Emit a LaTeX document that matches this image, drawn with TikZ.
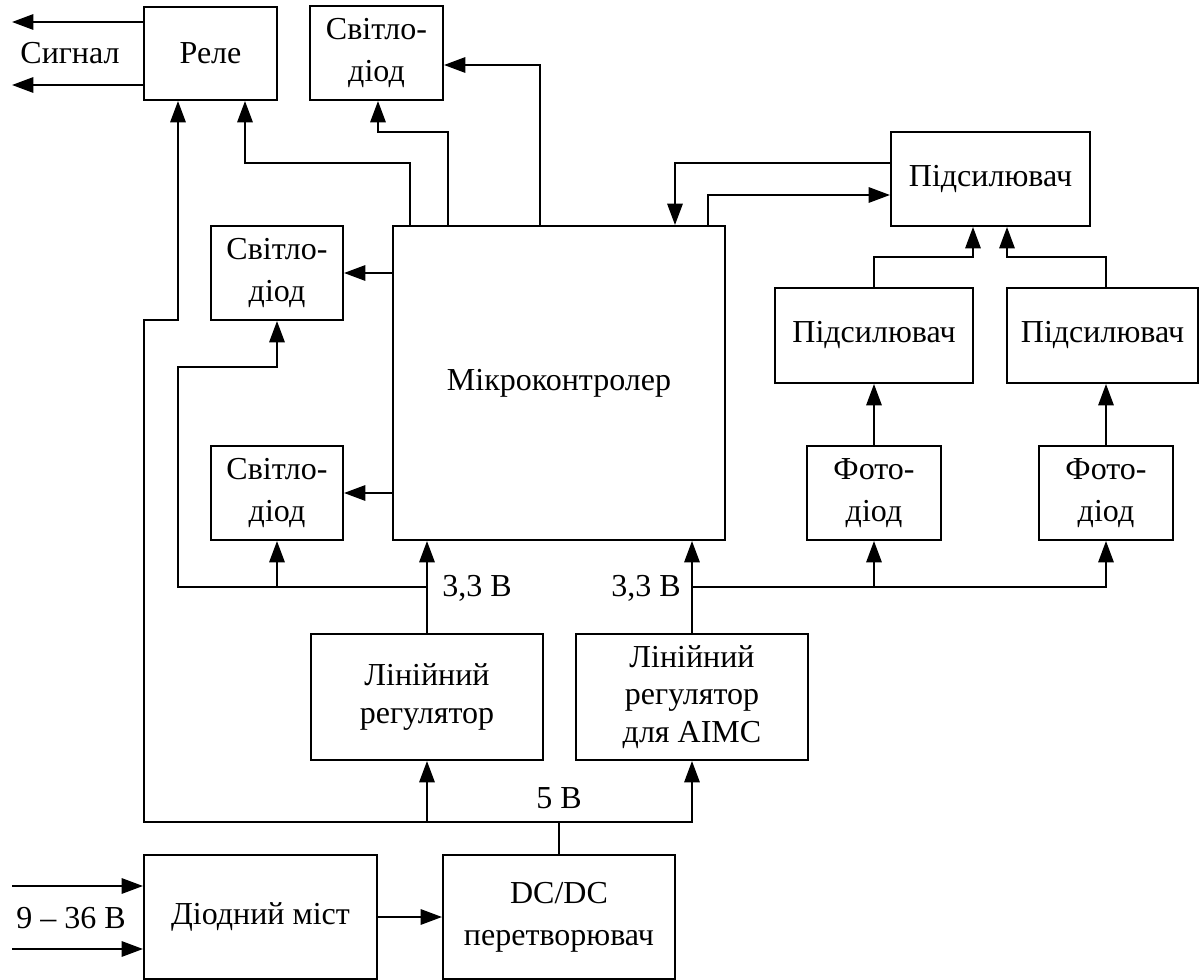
\documentclass[tikz,border=0pt]{standalone}
\usepackage{fontspec}
\setmainfont{Liberation Serif}
\usetikzlibrary{arrows.meta}
\newcommand\blockbox[7][]{%
  \node[blk, #1, minimum width={(#5-#3)*0.75pt}, minimum height={(#6-#4)*0.75pt}] (#2) at ({(#3+#5)/2},{(#4+#6)/2}) {#7};}
\tikzset{
  blk/.style={draw, line width=1.5pt, inner sep=0pt, align=center, font=\fontsize{24}{31.5}\selectfont},
  tight/.style={font=\fontsize{24}{28}\selectfont},
  wire/.style={line width=1.5pt},
  arr/.style={wire, -{Triangle[length=16pt,width=11.5pt]}},
  lbl/.style={inner sep=0pt, font=\fontsize{24}{30}\selectfont}
}
\begin{document}
\begin{tikzpicture}[x=0.75pt,y=-0.75pt]
\useasboundingbox (0,0) rectangle (1199,980);
% blocks
\blockbox{rele}{144}{7}{277}{100}{Реле}
\blockbox{led0}{310}{6}{443}{100}{Світло-\\діод}
\blockbox{led1}{211}{226}{343}{320}{Світло-\\діод}
\blockbox{led2}{211}{446}{343}{540}{Світло-\\діод}
\blockbox{mcu}{393}{226}{725}{540}{Мікроконтролер}
\blockbox{ampT}{891}{132}{1090}{226}{Підсилювач}
\blockbox{ampL}{775}{288}{973}{383}{Підсилювач}
\blockbox{ampR}{1007}{288}{1198}{383}{Підсилювач}
\blockbox{pd1}{807}{446}{941}{540}{Фото-\\діод}
\blockbox{pd2}{1039}{446}{1173}{540}{Фото-\\діод}
\blockbox[tight]{lr1}{311}{634}{543}{760}{Лінійний\\регулятор}
\blockbox[tight]{lr2}{576}{634}{808}{760}{Лінійний\\регулятор\\для AIMC}
\blockbox{db}{144}{855}{377}{979}{Діодний міст}
\blockbox{dc}{443}{855}{675}{979}{DC/DC\\перетворювач}
% free ends
\coordinate (sig1) at (12,22);
\coordinate (sig2) at (12,85);
\coordinate (in1) at (12,886);
\coordinate (in2) at (12,949);
% labels
\node[lbl] (tsig) at (70,53) {Сигнал};
\node[lbl] (tin) at (71,918) {9 – 36 В};
\node[lbl] (t33a) at (477,588) {3,3 В};
\node[lbl] (t33b) at (646,588) {3,3 В};
\node[lbl] (t5) at (559,798) {5 В};
% relay outputs
\draw[arr] (rele.west |- sig1) -- (sig1);
\draw[arr] (rele.west |- sig2) -- (sig2);
% mcu -> relay
\draw[arr] (mcu.north -| 410,0) |- (245,163) -- (rele.south -| 245,0);
% mcu -> top LED
\draw[arr] (mcu.north -| 448,0) |- (378,132) -- (led0.south -| 378,0);
\draw[arr] (mcu.north -| 540,0) |- (led0.east |- 0,65);
% mcu -> side LEDs
\draw[arr] (mcu.west |- led1.east) -- (led1.east);
\draw[arr] (mcu.west |- led2.east) -- (led2.east);
% mcu <-> amplifier
\draw[arr] (ampT.west |- 0,163) -| (mcu.north -| 675,0);
\draw[arr] (mcu.north -| 708,0) |- (ampT.west |- 0,195);
% amplifiers
\draw[arr] (ampL.north) |- (973,257) -- (ampT.south -| 973,0);
\draw[arr] (pd2.north |- ampR.north) |- (1007,257) -- (ampT.south -| 1007,0);
\draw[arr] (pd1.north) -- (pd1.north |- ampL.south);
\draw[arr] (pd2.north) -- (pd2.north |- ampR.south);
% 3.3 V left
\draw[arr] (lr1.north) -- (mcu.south -| lr1.north);
\draw[arr] (lr1.north |- 0,587) -| (178,367) -| (led1.south);
\draw[arr] (led2.south |- 0,587) -- (led2.south);
% 3.3 V right
\draw[arr] (lr2.north) -- (mcu.south -| lr2.north);
\draw[arr] (lr2.north |- 0,587) -| (pd2.south);
\draw[arr] (pd1.south |- 0,587) -- (pd1.south);
% 5 V bus
\draw[arr] (dc.north) |- (144,822) |- (178,320) -- (rele.south -| 178,0);
\draw[arr] (lr1.south |- 0,822) -- (lr1.south);
\draw[arr] (dc.north |- 0,822) -| (lr2.south);
% input
\draw[arr] (in1) -- (db.west |- in1);
\draw[arr] (in2) -- (db.west |- in2);
\draw[arr] (db.east) -- (dc.west);
\end{tikzpicture}
\end{document}
